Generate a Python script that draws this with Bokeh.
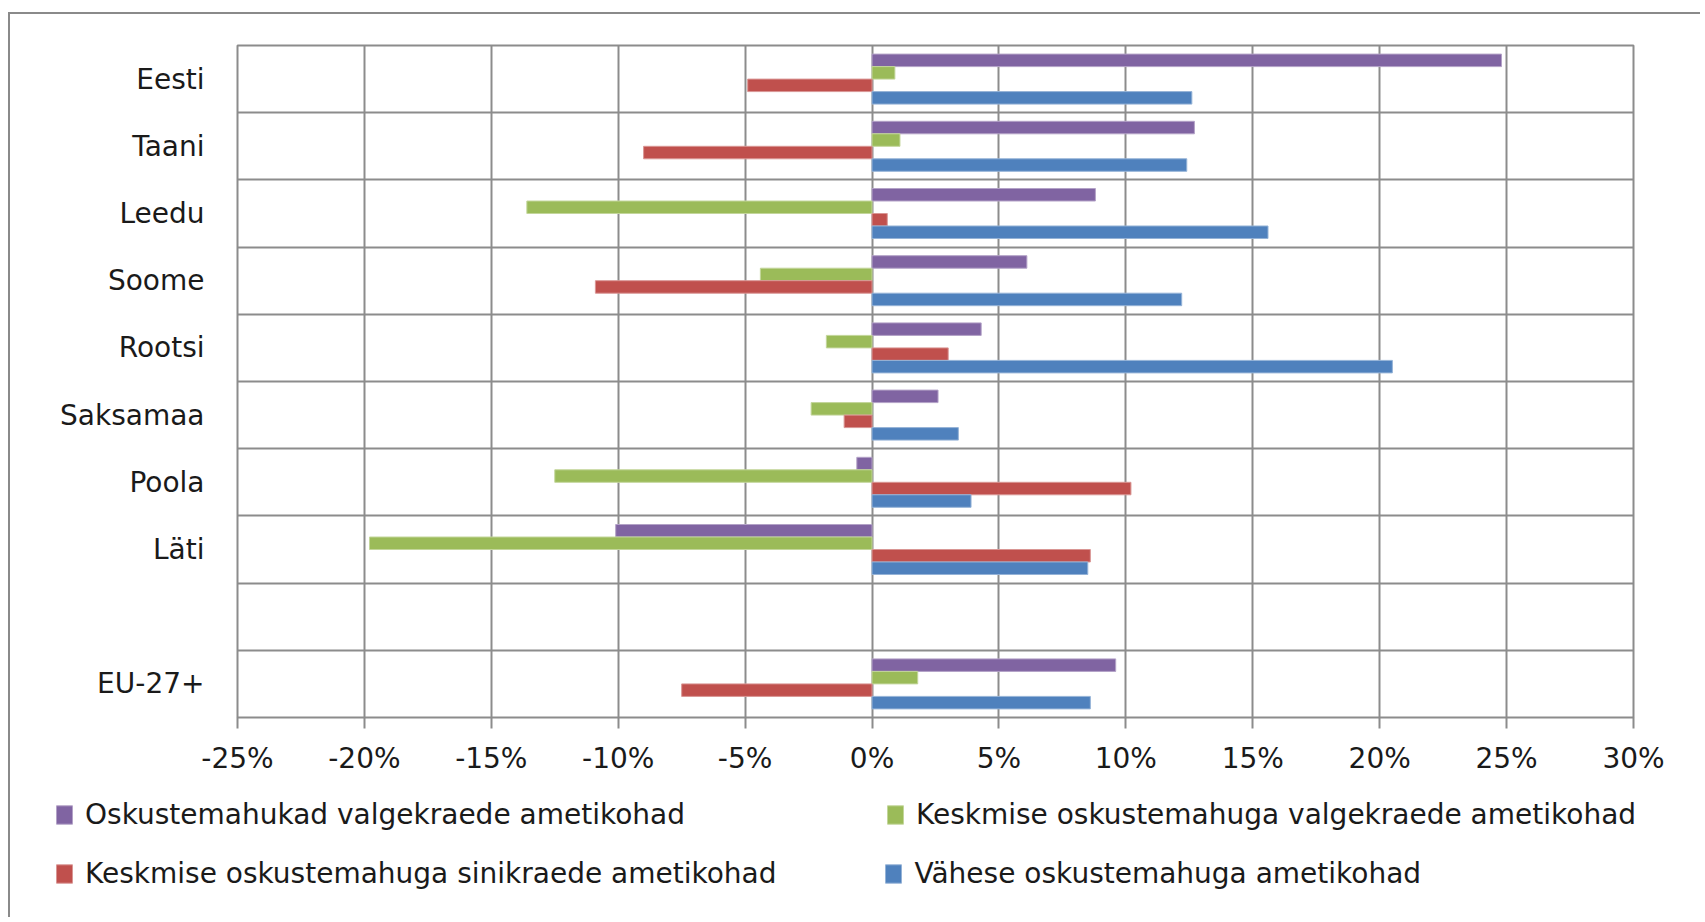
from bokeh.plotting import figure
from bokeh.layouts import column
from bokeh.models import (ColumnDataSource, Range1d, FixedTicker, Legend,
                          LegendItem)
from bokeh.transform import dodge
from bokeh.embed import file_html
from bokeh.resources import INLINE

# Employment change by job type, percent
countries = ["Eesti", "Taani", "Leedu", "Soome", "Rootsi", "Saksamaa",
             "Poola", "Läti", "", "EU-27+"]
high_skill_white = [24.8, 12.7, 8.8, 6.1, 4.3, 2.6, -0.6, -10.1, None, 9.6]
mid_skill_white = [0.9, 1.1, -13.6, -4.4, -1.8, -2.4, -12.5, -19.8, None, 1.8]
mid_skill_blue = [-4.9, -9.0, 0.6, -10.9, 3.0, -1.1, 10.2, 8.6, None, -7.5]
low_skill = [12.6, 12.4, 15.6, 12.2, 20.5, 3.4, 3.9, 8.5, None, 8.6]

series_names = [
    "Oskustemahukad valgekraede ametikohad",
    "Keskmise oskustemahuga valgekraede ametikohad",
    "Keskmise oskustemahuga sinikraede ametikohad",
    "Vähese oskustemahuga ametikohad",
]
x_ticks = [-25, -20, -15, -10, -5, 0, 5, 10, 15, 20, 25, 30]
x_tick_labels = ["-25%", "-20%", "-15%", "-10%", "-5%", "0%",
                 "5%", "10%", "15%", "20%", "25%", "30%"]

colors = ["#8064A2", "#9BBB59", "#C0504D", "#4F81BD"]
edge_colors = ["#B3A2C7", "#C3D69B", "#D99694", "#95B3D7"]
grid_color = "#8C8C8C"
text_color = "#1A1A1A"
font = "DejaVu Sans"
font_size = "28px"

n = len(countries)
row_centers = [n - 0.5 - i for i in range(n)]
keep = [i for i, c in enumerate(countries) if c != ""]

source = ColumnDataSource(data=dict(
    y=[row_centers[i] for i in keep],
    s0=[high_skill_white[i] for i in keep],
    s1=[mid_skill_white[i] for i in keep],
    s2=[mid_skill_blue[i] for i in keep],
    s3=[low_skill[i] for i in keep],
))

W = 1690
p = figure(width=W, height=773, output_backend="svg", toolbar_location=None,
           x_range=Range1d(-25, 30), y_range=Range1d(0, n),
           min_border_left=227, min_border_right=67,
           min_border_top=31, min_border_bottom=70)
p.frame_align = False
p.background_fill_color = "white"
p.border_fill_color = "white"
p.outline_line_color = grid_color
p.outline_line_width = 2

bar_h = 0.186
offsets = [1.5 * bar_h, 0.5 * bar_h, -0.5 * bar_h, -1.5 * bar_h]
for k in range(4):
    p.hbar(y=dodge("y", offsets[k]), left=0, right="s%d" % k,
           height=bar_h, source=source, fill_color=colors[k],
           line_color=edge_colors[k], line_width=1)

# x axis
xa = p.xaxis[0]
xa.ticker = FixedTicker(ticks=x_ticks)
xa.major_label_overrides = {t: s for t, s in zip(x_ticks, x_tick_labels)}
xa.axis_line_color = None
xa.major_tick_line_color = grid_color
xa.major_tick_line_width = 2
xa.major_tick_in = 0
xa.major_tick_out = 11
xa.minor_tick_line_color = None
xa.major_label_standoff = 13
xa.major_label_text_font = font
xa.major_label_text_font_size = font_size
xa.major_label_text_color = text_color

# y axis with country labels at row centres
ya = p.yaxis[0]
ya.ticker = FixedTicker(ticks=[row_centers[i] for i in keep])
ya.major_label_overrides = {row_centers[i]: countries[i] for i in keep}
ya.axis_line_color = None
ya.major_tick_line_color = None
ya.minor_tick_line_color = None
ya.major_tick_in = 0
ya.major_tick_out = 0
ya.major_label_standoff = 33
ya.major_label_text_font = font
ya.major_label_text_font_size = font_size
ya.major_label_text_color = text_color

p.xgrid.grid_line_color = grid_color
p.xgrid.grid_line_width = 2
p.ygrid.ticker = FixedTicker(ticks=list(range(1, n)))
p.ygrid.grid_line_color = grid_color
p.ygrid.grid_line_width = 2

# legend strip under the chart: two rows of two entries
LH = 130
pl = figure(width=W, height=LH, output_backend="svg", toolbar_location=None,
            x_range=Range1d(0, 1), y_range=Range1d(0, 1),
            x_axis_type=None, y_axis_type=None,
            min_border_left=0, min_border_right=0,
            min_border_top=0, min_border_bottom=0)
pl.frame_align = False
pl.outline_line_color = None
pl.grid.visible = False
pl.background_fill_color = "white"
pl.border_fill_color = "white"

# key swatches; their single bar lies outside the visible range
keys = []
for k in range(4):
    keys.append(pl.hbar(y=[-5], right=[1], height=0.1, fill_color=colors[k],
                        line_color=edge_colors[k], line_width=1))

ITEM_H = 23


def legend_row(idx, gap, top):
    return Legend(
        items=[LegendItem(label=series_names[i], renderers=[keys[i]]) for i in idx],
        location=(44, LH - ITEM_H - top), orientation="horizontal",
        glyph_width=20, glyph_height=ITEM_H, label_height=ITEM_H,
        label_standoff=11, spacing=gap, padding=0, margin=0,
        border_line_color=None, background_fill_alpha=0,
        label_text_font=font, label_text_font_size=font_size,
        label_text_color=text_color,
    )


pl.add_layout(legend_row([0, 1], 200, 21))
pl.add_layout(legend_row([2, 3], 107, 80))

page = column(p, pl, spacing=0,
              styles={"margin-left": "8px", "margin-top": "12px",
                      "border-left": "2px solid #8A8A8A",
                      "border-top": "2px solid #8A8A8A"})

open("out.html", "w").write(file_html(page, INLINE))
